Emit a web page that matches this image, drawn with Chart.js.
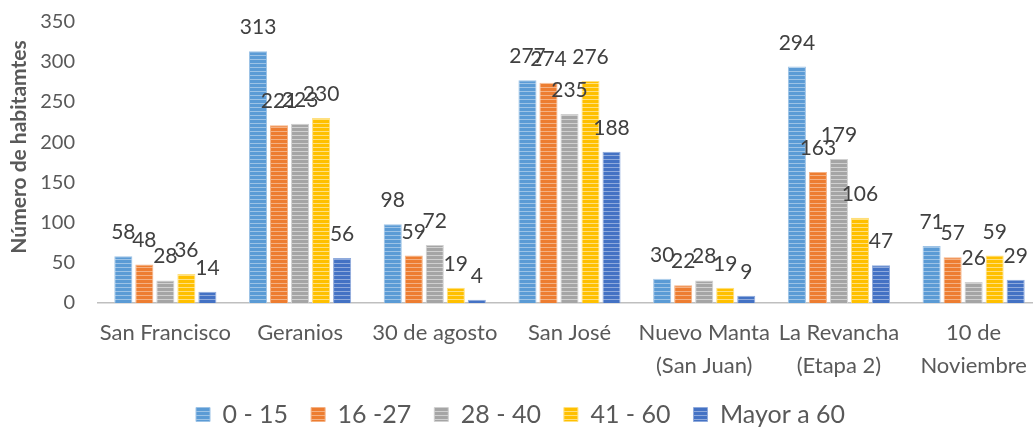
<!DOCTYPE html>
<html>
<head>
<meta charset="utf-8">
<script src="https://cdn.jsdelivr.net/npm/chart.js@4"></script>
<style>
  html, body { margin: 0; padding: 0; background: #fff; overflow: hidden; }
  #wrap { width: 1051px; height: 437px; }
</style>
</head>
<body>
<div id="wrap"><canvas id="myChart"></canvas></div>
<script>
const barrios = ['San Francisco', 'Geranios', '30 de agosto', 'San José',
    ['Nuevo Manta', '(San Juan)'], ['La Revancha', '(Etapa 2)'], ['10 de', 'Noviembre']];
const edad0a15 = [58, 313, 98, 277, 30, 294, 71];
const edad16a27 = [48, 221, 59, 274, 22, 163, 57];
const edad28a40 = [28, 223, 72, 235, 28, 179, 26];
const edad41a60 = [36, 230, 19, 276, 19, 106, 59];
const mayor60 = [14, 56, 4, 188, 9, 47, 29];
const yTicks = [0, 50, 100, 150, 200, 250, 300, 350];
const yTitle = 'Número de habitamtes';

// horizontal stripes like the Excel fill
function stripes(base, light) {
    const c = document.createElement('canvas');
    c.width = 8;
    c.height = 4;
    const g = c.getContext('2d');
    g.fillStyle = base;
    g.fillRect(0, 0, 8, 4);
    g.fillStyle = light;
    g.fillRect(0, 3, 8, 1);
    return g.createPattern(c, 'repeat');
}

const valueLabels = {
    id: 'valueLabels',
    afterDatasetsDraw(chart) {
        const c = chart.ctx;
        c.save();
        c.font = '21px Lato';
        c.fillStyle = '#404040';
        c.textAlign = 'center';
        c.textBaseline = 'alphabetic';
        chart.data.datasets.forEach((ds, i) => {
            chart.getDatasetMeta(i).data.forEach((bar, j) => {
                c.fillText(ds.data[j], bar.x, bar.y - 17);
            });
        });
        c.restore();
    }
};

// y title sits a bit above the middle of the plot, as in the original
const axisTitle = {
    id: 'axisTitle',
    afterDraw(chart) {
        const c = chart.ctx;
        c.save();
        c.translate(19.5, 147);
        c.rotate(-Math.PI / 2);
        c.font = 'bold 21px Lato';
        c.fillStyle = '#595959';
        c.textAlign = 'center';
        c.textBaseline = 'middle';
        c.fillText(yTitle, 0, 0);
        c.restore();
    }
};

function serie(label, data, base, light) {
    return {
        label: label,
        data: data,
        backgroundColor: stripes(base, light),
        borderColor: light,
        borderWidth: 1,
        categoryPercentage: 0.78,
        barPercentage: 0.86
    };
}

const ctx = document.getElementById('myChart');

new Chart(ctx, {
    type: 'bar',
    data: {
        labels: barrios,
        datasets: [
            serie('0 - 15', edad0a15, '#5B9BD5', '#9DC3E6'),
            serie('16 -27', edad16a27, '#ED7D31', '#F4B183'),
            serie('28 - 40', edad28a40, '#A5A5A5', '#D0D0D0'),
            serie('41 - 60', edad41a60, '#FFC000', '#FFE07F'),
            serie('Mayor a 60', mayor60, '#4472C4', '#8FAADC')
        ]
    },
    plugins: [valueLabels, axisTitle],
    options: {
        responsive: true,
        maintainAspectRatio: false,
        animation: false,
        layout: { padding: { top: 0, right: 10, bottom: 0, left: 0 } },
        plugins: {
            tooltip: { enabled: false },
            legend: {
                position: 'bottom',
                labels: {
                    font: { family: 'Lato', size: 25 },
                    color: '#595959',
                    boxWidth: 14,
                    boxHeight: 14,
                    padding: 23
                }
            }
        },
        scales: {
            x: {
                grid: { display: false, drawTicks: false },
                border: { color: '#BFBFBF', width: 1.5 },
                ticks: {
                    font: { family: 'Lato', size: 22, lineHeight: 1.5 },
                    color: '#595959',
                    padding: 13,
                    maxRotation: 0,
                    autoSkip: false
                },
                afterFit(scale) {
                    scale.height = 76;
                    scale.paddingTop = 0;
                }
            },
            y: {
                min: 0,
                max: 350,
                afterBuildTicks(scale) { scale.ticks = yTicks.map(v => ({ value: v })); },
                grid: { display: false, drawTicks: false },
                border: { display: false },
                ticks: {
                    font: { family: 'Lato', size: 20 },
                    color: '#595959',
                    padding: 23
                },
                afterFit(scale) {
                    scale.width = 98;
                    scale.paddingTop = 21.5;
                }
            }
        }
    }
});
</script>
</body>
</html>
